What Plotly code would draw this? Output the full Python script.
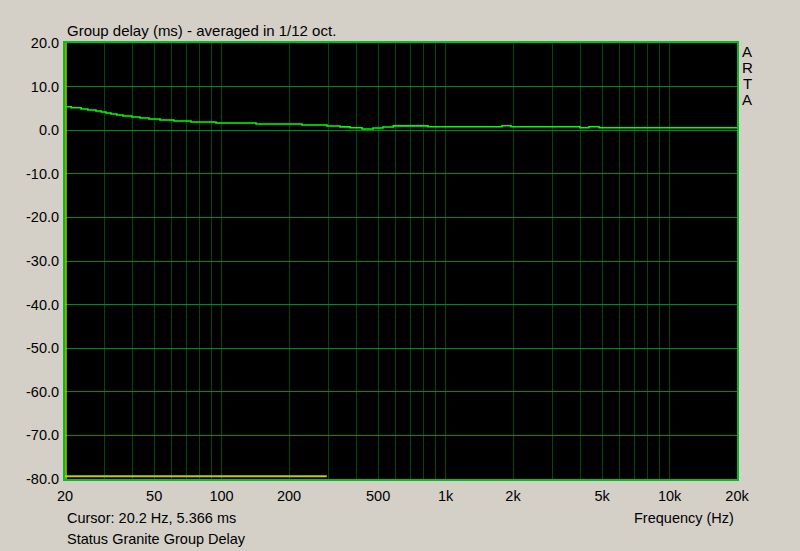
import plotly.graph_objects as go

# Group delay curve (step data, 1/12 oct averaged), start frequency of each step in Hz
freq_hz = [20, 21.3, 23.6, 25.3, 27.5, 29.0, 30.5, 32.1, 34.1, 36.3, 39.8, 43.2, 47.4,
           53.1, 61.3, 73.0, 94.4, 142.5, 228.6, 295.6, 337.9, 374.5, 423.6, 474.3,
           525.6, 584.7, 834.8, 1786, 1959, 3982, 4368, 4842, 20000]
delay_ms = [5.39, 5.16, 4.86, 4.63, 4.40, 4.17, 3.94, 3.71, 3.48, 3.25, 3.03, 2.80, 2.57,
            2.34, 2.11, 1.88, 1.65, 1.42, 1.19, 0.96, 0.77, 0.55, 0.28, 0.52,
            0.75, 1.00, 0.80, 1.03, 0.80, 0.57, 0.80, 0.57, 0.57]

# Yellow marker band at bottom (frequency range)
band_hz = [20, 295]
band_ms = [-79.35, -79.35]

# Cursor
cursor_hz = 20.2
cursor_ms = 5.366

x_tickvals = [20, 50, 100, 200, 500, 1000, 2000, 5000, 10000, 20000]
x_ticktext = ["20", "50", "100", "200", "500", "1k", "2k", "5k", "10k", "20k"]
x_minor = [30, 40, 60, 70, 80, 90, 300, 400, 600, 700, 800, 900,
           3000, 4000, 6000, 7000, 8000, 9000]
x_major_bright = [100, 1000, 10000]

y_tickvals = [20, 10, 0, -10, -20, -30, -40, -50, -60, -70, -80]
y_ticktext = ["%.1f" % v for v in y_tickvals]

FONT = "Liberation Sans, Arial, sans-serif"
BG = "#D4D0C8"
GRID_DARK = "#004812"
GRID_BRIGHT = "#008a1c"
FS = 14.5

fig = go.Figure()

fig.add_trace(go.Scatter(x=[cursor_hz, cursor_hz], y=[-80, 20], mode="lines",
                         line=dict(color="#c8c800", width=1.5), hoverinfo="skip"))
fig.add_trace(go.Scatter(x=band_hz, y=band_ms, mode="lines",
                         line=dict(color="#c8c800", width=2), hoverinfo="skip"))
fig.add_trace(go.Scatter(x=freq_hz, y=delay_ms, mode="lines",
                         line=dict(color="#00ff00", width=1.6, shape="hv")))

for f in x_major_bright:
    fig.add_shape(type="line", x0=f, x1=f, y0=0, y1=1, xref="x", yref="paper",
                  line=dict(color=GRID_BRIGHT, width=1), layer="below")

fig.update_layout(
    width=800, height=551,
    margin=dict(l=65, r=63, t=43, b=72),
    paper_bgcolor=BG, plot_bgcolor="black",
    showlegend=False,
    font=dict(family=FONT, size=FS, color="black"),
)

fig.update_xaxes(
    type="log", range=[1.30103, 4.30103],
    tickmode="array", tickvals=x_tickvals, ticktext=x_ticktext,
    showgrid=True, gridcolor=GRID_DARK, gridwidth=1,
    minor=dict(tickmode="array", tickvals=x_minor, showgrid=True,
               gridcolor=GRID_DARK, gridwidth=1, ticks=""),
    ticks="", ticklabelstandoff=3,
    showline=True, linecolor="#00c020", linewidth=2, mirror=True,
    zeroline=False, tickfont=dict(family=FONT, size=FS, color="black"),
)
fig.update_yaxes(
    range=[-80, 20], tickmode="array", tickvals=y_tickvals, ticktext=y_ticktext,
    showgrid=True, gridcolor=GRID_BRIGHT, gridwidth=1,
    ticks="", ticklabelstandoff=1,
    showline=True, linecolor="#00c020", linewidth=2, mirror=True,
    zeroline=False, tickfont=dict(family=FONT, size=FS, color="black"),
)

annotations = [
    dict(text="Group delay (ms) - averaged in 1/12 oct.", x=65, y=31, xanchor="left", size=15),
    dict(text="Cursor: %.1f Hz, %.3f ms" % (cursor_hz, cursor_ms), x=65, y=518, xanchor="left", size=FS),
    dict(text="Status Granite Group Delay", x=65, y=539, xanchor="left", size=FS),
    dict(text="Frequency (Hz)", x=736, y=518, xanchor="right", size=FS),
    dict(text="A", x=747, y=51, xanchor="center", size=15),
    dict(text="R", x=747, y=67, xanchor="center", size=15),
    dict(text="T", x=747, y=83, xanchor="center", size=15),
    dict(text="A", x=747, y=99, xanchor="center", size=15),
]
for a in annotations:
    fig.add_annotation(
        text=a["text"], xref="paper", yref="paper",
        x=(a["x"] - 65) / 672.0, y=(479 - a["y"]) / 436.0,
        xanchor=a["xanchor"], yanchor="middle", showarrow=False,
        font=dict(family=FONT, size=a["size"], color="black"),
    )

fig.write_html(
    "out.html",
    config={"displayModeBar": False},
    post_script="document.body.style.margin='0';document.body.style.background='#D4D0C8';document.body.style.overflow='hidden';",
)
